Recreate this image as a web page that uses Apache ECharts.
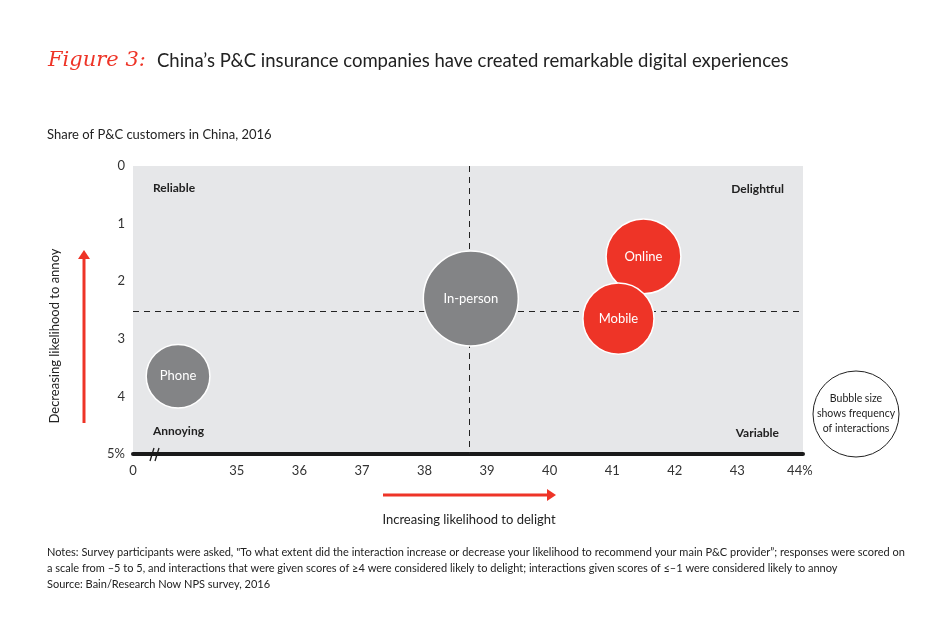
<!DOCTYPE html>
<html>
<head>
<meta charset="utf-8">
<script src="https://cdn.jsdelivr.net/npm/echarts@6/dist/echarts.min.js"></script>
<style>
  html, body { margin: 0; padding: 0; background: #fff; }
  #chart { width: 950px; height: 638px; }
</style>
</head>
<body>
<div id="chart"></div>
<script>
// data
const channels = ['Phone', 'In-person', 'Online', 'Mobile'];
const delightShare = [34.06, 38.74, 41.50, 41.10]; // x, on the broken axis
const annoyShare = [3.65, 2.30, 1.57, 2.65];       // y
const frequency = [45, 100, 62, 56];               // relative, drives bubble area
const xTicks = [0, 35, 36, 37, 38, 39, 40, 41, 42, 43, 44];
const yTicks = [0, 1, 2, 3, 4, 5];
const avgDelight = 38.71;
const avgAnnoy = 2.53;

const AXIS_START = 33.34; // where the "0" sits after the axis break
const GREY = '#838486';
const RED = '#ee3427';
const FONT = 'Lato';

const chart = echarts.init(document.getElementById('chart'), null, { renderer: 'canvas' });

function txt(x, y, text, style, extra) {
  return Object.assign({
    type: 'text', x: x, y: y, silent: true,
    style: Object.assign({ text: text, fill: '#222', font: '13px ' + FONT }, style)
  }, extra || {});
}

const option = {
  animation: false,
  backgroundColor: '#fff',
  grid: {
    left: 133, right: 147, top: 166, bottom: 184,
    show: true, backgroundColor: '#e6e7e9', borderWidth: 0
  },
  xAxis: {
    type: 'value',
    position: 'bottom',
    min: AXIS_START,
    max: 44.05,
    splitLine: { show: false },
    axisTick: { show: false },
    axisLine: { show: true, onZero: false, lineStyle: { color: '#1a1a1a', width: 4 } },
    axisLabel: {
      customValues: xTicks.map(v => v === 0 ? AXIS_START : v),
      margin: 10,
      color: '#333',
      fontSize: 13,
      fontFamily: FONT,
      formatter: v => v < 34 ? '0' : (v === 44 ? '44%' : String(v))
    }
  },
  yAxis: {
    type: 'value',
    inverse: true,
    min: 0,
    max: 5,
    interval: 1,
    splitLine: { show: false },
    axisTick: { show: false },
    axisLine: { show: false },
    axisLabel: {
      customValues: yTicks,
      margin: 8,
      color: '#333',
      fontSize: 13,
      fontFamily: FONT,
      formatter: v => v === 5 ? '5%' : String(v)
    }
  },
  series: [
    {
      type: 'line',
      data: [],
      z: 1,
      silent: true,
      markLine: {
        z: 1,
        silent: true,
        symbol: 'none',
        label: { show: false },
        lineStyle: { color: '#222', width: 1, type: [6, 5] },
        data: [{ xAxis: avgDelight }, { yAxis: avgAnnoy }]
      }
    },
    {
      type: 'scatter',
      z: 6,
      symbolSize: d => 9.5 * Math.sqrt(d[2]),
      itemStyle: { borderColor: '#fff', borderWidth: 1.5, opacity: 1 },
      label: {
        show: true,
        position: 'inside',
        formatter: '{b}',
        color: '#fff',
        fontSize: 13,
        fontFamily: FONT
      },
      data: channels.map((c, i) => ({
        name: c,
        value: [delightShare[i], annoyShare[i], frequency[i]],
        itemStyle: { color: i < 2 ? GREY : RED }
      }))
    }
  ],
  graphic: [
    // title
    txt(48, 61, 'Figure 3:', { fill: RED, font: 'italic 21px "DejaVu Serif"', verticalAlign: 'middle' }),
    txt(157, 61, 'China\u2019s P&C insurance companies have created remarkable digital experiences',
      { font: '18.5px ' + FONT, verticalAlign: 'middle' }),
    txt(47, 135, 'Share of P&C customers in China, 2016', { verticalAlign: 'middle' }),

    // quadrant labels
    txt(153, 188, 'Reliable', { font: 'bold 12px ' + FONT, verticalAlign: 'middle' }),
    txt(153, 431, 'Annoying', { font: 'bold 12px ' + FONT, verticalAlign: 'middle' }),
    txt(784, 189, 'Delightful', { font: 'bold 12px ' + FONT, align: 'right', verticalAlign: 'middle' }),
    txt(779, 433, 'Variable', { font: 'bold 12px ' + FONT, align: 'right', verticalAlign: 'middle' }),

    // axis break
    { type: 'line', silent: true, z: 10, shape: { x1: 150, y1: 461, x2: 154, y2: 448 }, style: { stroke: '#1a1a1a', lineWidth: 1.3 } },
    { type: 'line', silent: true, z: 10, shape: { x1: 155, y1: 461, x2: 159, y2: 448 }, style: { stroke: '#1a1a1a', lineWidth: 1.3 } },

    // y direction arrow + label
    { type: 'line', silent: true, shape: { x1: 84, y1: 423, x2: 84, y2: 258 }, style: { stroke: RED, lineWidth: 3 } },
    { type: 'polygon', silent: true, shape: { points: [[78, 259], [90, 259], [84, 250]] }, style: { fill: RED } },
    txt(55, 336, 'Decreasing likelihood to annoy', { align: 'center', verticalAlign: 'middle' }, { rotation: Math.PI / 2 }),

    // x direction arrow + label
    { type: 'line', silent: true, shape: { x1: 383, y1: 495, x2: 548, y2: 495 }, style: { stroke: RED, lineWidth: 3 } },
    { type: 'polygon', silent: true, shape: { points: [[547, 489], [547, 501], [556, 495]] }, style: { fill: RED } },
    txt(469, 520, 'Increasing likelihood to delight', { align: 'center', verticalAlign: 'middle' }),

    // bubble size key
    { type: 'circle', silent: true, shape: { cx: 856, cy: 414, r: 43 }, style: { fill: '#fff', stroke: '#222', lineWidth: 1 } },
    txt(856, 414, 'Bubble size\nshows frequency\nof interactions',
      { font: '10.5px ' + FONT, align: 'center', verticalAlign: 'middle', lineHeight: 15 }),

    // notes
    txt(47, 552, 'Notes: Survey participants were asked, "To what extent did the interaction increase or decrease your likelihood to recommend your main P&C provider\u201d; responses were scored on',
      { font: '11px ' + FONT, verticalAlign: 'middle' }),
    txt(47, 568, 'a scale from \u20135 to 5, and interactions that were given scores of \u22654 were considered likely to delight; interactions given scores of \u2264\u20131 were considered likely to annoy',
      { font: '11px ' + FONT, verticalAlign: 'middle' }),
    txt(47, 584, 'Source: Bain/Research Now NPS survey, 2016', { font: '11px ' + FONT, verticalAlign: 'middle' })
  ]
};

chart.setOption(option);
</script>
</body>
</html>
